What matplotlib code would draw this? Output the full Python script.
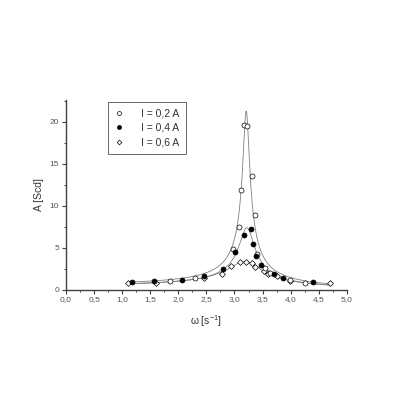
import numpy as np
import matplotlib.pyplot as plt
from matplotlib.ticker import FuncFormatter, MultipleLocator

plt.rcParams['font.family'] = ['Liberation Sans', 'DejaVu Sans']
plt.rcParams['mathtext.fontset'] = 'custom'
plt.rcParams['mathtext.rm'] = 'Liberation Sans'

# I = 0,2 A
w1 = [1.86, 2.29, 2.98, 3.08, 3.12, 3.17, 3.22, 3.31, 3.36, 3.40, 3.55, 3.63, 3.99, 4.25]
a1 = [1.05, 1.41, 4.83, 7.49, 11.9, 19.6, 19.5, 13.5, 8.9, 4.3, 2.57, 1.97, 1.13, 0.78]
# I = 0,4 A
w2 = [1.18, 1.56, 2.07, 2.45, 2.79, 3.01, 3.17, 3.30, 3.33, 3.38, 3.48, 3.71, 3.87, 4.39]
a2 = [0.93, 1.05, 1.17, 1.65, 2.41, 4.51, 6.54, 7.22, 5.39, 4.00, 2.98, 1.89, 1.34, 0.95]
# I = 0,6 A
w3 = [1.11, 1.61, 2.45, 2.77, 2.93, 3.09, 3.20, 3.31, 3.36, 3.52, 3.60, 3.76, 3.98, 4.70]
a3 = [0.74, 0.81, 1.34, 1.85, 2.84, 3.25, 3.28, 3.16, 2.72, 2.20, 1.90, 1.61, 1.07, 0.74]

labels = ["I = 0,2 A", "I = 0,4 A", "I = 0,6 A"]


def resonance_fit(w, a):
    # least squares fit of a driven-oscillator amplitude curve
    w = np.asarray(w)
    a = np.asarray(a)
    best = None
    for w0 in np.linspace(3.0, 3.4, 81):
        for d in np.linspace(0.02, 0.8, 157):
            g = 1.0 / np.sqrt((w0**2 - w**2)**2 + 4 * d**2 * w**2)
            F = np.dot(g, a) / np.dot(g, g)
            err = np.sum((F * g - a)**2)
            if best is None or err < best[0]:
                best = (err, w0, d, F)
    return best[1:]


fig = plt.figure(figsize=(4, 4), dpi=100)
ax = fig.add_axes([0.165, 0.276, 0.702, 0.474])

wl = np.linspace(1.1, 4.7, 600)
for w, a in [(w1, a1), (w2, a2), (w3, a3)]:
    w0, d, F = resonance_fit(w, a)
    ax.plot(wl, F / np.sqrt((w0**2 - wl**2)**2 + 4 * d**2 * wl**2),
            color='#808080', lw=0.6, zorder=1)

ax.plot(w1, a1, 'o', ms=3.6, mfc='white', mec='black', mew=0.5, ls='none', label=labels[0], zorder=3)
ax.plot(w2, a2, 'o', ms=3.6, mfc='black', mec='black', mew=0.5, ls='none', label=labels[1], zorder=3)
ax.plot(w3, a3, 'D', ms=3.0, mfc='white', mec='black', mew=0.5, ls='none', label=labels[2], zorder=2)

ax.set_xlim(0, 5)
ax.set_ylim(0, 22.6)
ax.xaxis.set_major_locator(MultipleLocator(0.5))
ax.xaxis.set_minor_locator(MultipleLocator(0.25))
ax.yaxis.set_major_locator(MultipleLocator(5))
ax.yaxis.set_minor_locator(MultipleLocator(2.5))
ax.xaxis.set_major_formatter(FuncFormatter(lambda v, p: f"{v:.1f}".replace('.', ',')))
ax.yaxis.set_major_formatter(FuncFormatter(lambda v, p: f"{v:.0f}"))

for s in ['top', 'right']:
    ax.spines[s].set_visible(False)
for s in ['left', 'bottom']:
    ax.spines[s].set_color('#404040')
    ax.spines[s].set_linewidth(1.0)
ax.tick_params(which='both', direction='out', colors='#404040', labelcolor='#555555', labelsize=6)
ax.tick_params(which='major', length=3, width=0.8, pad=2)
ax.tick_params(which='minor', length=1.6, width=0.7)

ax.set_xlabel("ω [s$^{-1}$]", fontsize=7.5, color='#333333', labelpad=7)
ax.set_ylabel("A [Scd]", fontsize=7.5, color='#333333', labelpad=4)

leg = ax.legend(loc='upper left', bbox_to_anchor=(0.149, 0.99), borderaxespad=0,
                fontsize=7.5, frameon=True, fancybox=False, edgecolor='#404040',
                handlelength=1.0, handletextpad=1.6, borderpad=0.6,
                labelspacing=0.45, markerscale=0.8)
leg.get_frame().set_linewidth(0.7)
for t in leg.get_texts():
    t.set_color('#333333')

fig.savefig("out.png", dpi=100)
